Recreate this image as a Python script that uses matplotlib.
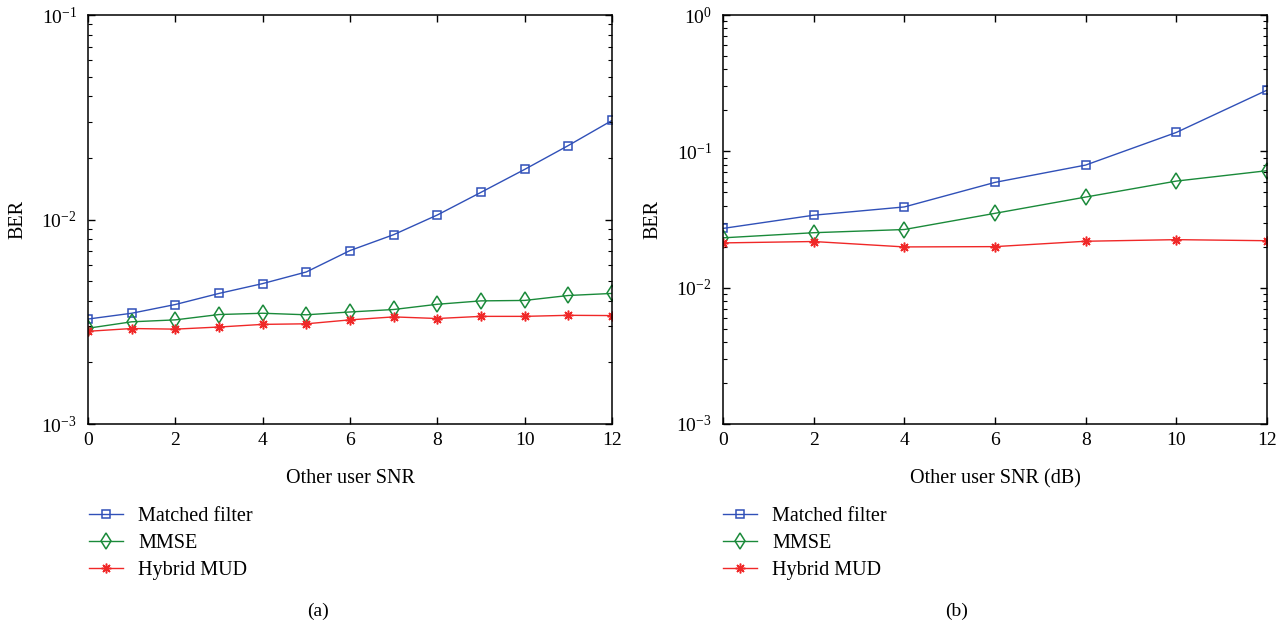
import matplotlib
matplotlib.use("Agg")
import matplotlib.pyplot as plt
import numpy as np

plt.rcParams["font.family"] = ["Liberation Serif", "DejaVu Serif"]
plt.rcParams["mathtext.fontset"] = "stix"

# panel (a)
snr_a = [0, 1, 2, 3, 4, 5, 6, 7, 8, 9, 10, 11, 12]
mf_a = [0.00326, 0.00348, 0.00384, 0.00435, 0.00486, 0.00554, 0.00705, 0.00843,
        0.01052, 0.01358, 0.01758, 0.0230, 0.0305]
mmse_a = [0.00294, 0.00316, 0.00323, 0.00343, 0.00348, 0.00342, 0.00353, 0.00363,
          0.00385, 0.00400, 0.00402, 0.00425, 0.00435]
hyb_a = [0.00284, 0.00293, 0.00291, 0.00298, 0.00307, 0.00309, 0.00323, 0.00334,
         0.00328, 0.00336, 0.00336, 0.00340, 0.00339]

# panel (b)
snr_b = [0, 2, 4, 6, 8, 10, 12]
mf_b = [0.0272, 0.0340, 0.0391, 0.0592, 0.0793, 0.1376, 0.281]
mmse_b = [0.0232, 0.0253, 0.0267, 0.0351, 0.0462, 0.0605, 0.0721]
hyb_b = [0.0213, 0.0218, 0.0199, 0.0200, 0.0219, 0.0225, 0.0221]

labels = ["Matched filter", "MMSE", "Hybrid MUD"]
colors = ["#3050b8", "#1a8a3a", "#f02828"]
markers = ["s", "d", (8, 2, 0)]
msizes = [6, 8, 7]

W, H = 1284, 629
fig = plt.figure(figsize=(W / 100, H / 100), dpi=100)
ax_a = fig.add_axes([88 / W, 1 - 424 / H, 524 / W, 409 / H])
ax_b = fig.add_axes([723 / W, 1 - 424 / H, 544 / W, 409 / H])


def draw(ax, x, series, ylim, xlabel, legend_left):
    handles = []
    for y, c, m, ms, lab in zip(series, colors, markers, msizes, labels):
        h, = ax.plot(x, y, color=c, marker=m, markersize=ms, markerfacecolor="none",
                     markeredgecolor=c, markeredgewidth=1.1, linewidth=1.0, label=lab)
        handles.append(h)
    ax.set_yscale("log")
    ax.set_ylim(*ylim)
    ax.set_xlim(0, 12)
    ax.set_xticks([0, 2, 4, 6, 8, 10, 12])
    ax.tick_params(which="both", direction="in", top=True, right=True, labelsize=14)
    ax.tick_params(which="major", length=5, width=1.0)
    ax.tick_params(which="minor", length=3, width=0.8)
    ax.tick_params(axis="x", pad=6)
    ax.tick_params(axis="y", pad=8)
    for s in ax.spines.values():
        s.set_linewidth(1.1)
    ax.set_xlabel(xlabel, fontsize=14.5, labelpad=14)
    ax.set_ylabel("BER", fontsize=14.5, labelpad=10)
    fig.legend(handles=handles, loc="upper left",
               bbox_to_anchor=(legend_left, 1 - 507 / H), frameon=False,
               fontsize=14.5, borderpad=0, borderaxespad=0, handlelength=1.7,
               handletextpad=0.75, labelspacing=0.4)


draw(ax_a, snr_a, [mf_a, mmse_a, hyb_a], (1e-3, 1e-1), "Other user SNR", 89 / W)
draw(ax_b, snr_b, [mf_b, mmse_b, hyb_b], (1e-3, 1e0), "Other user SNR (dB)", 723 / W)

fig.text(318 / W, 1 - 611 / H, "(a)", ha="center", va="center", fontsize=14)
fig.text(957 / W, 1 - 611 / H, "(b)", ha="center", va="center", fontsize=14)

fig.savefig("out.png", dpi=100)
